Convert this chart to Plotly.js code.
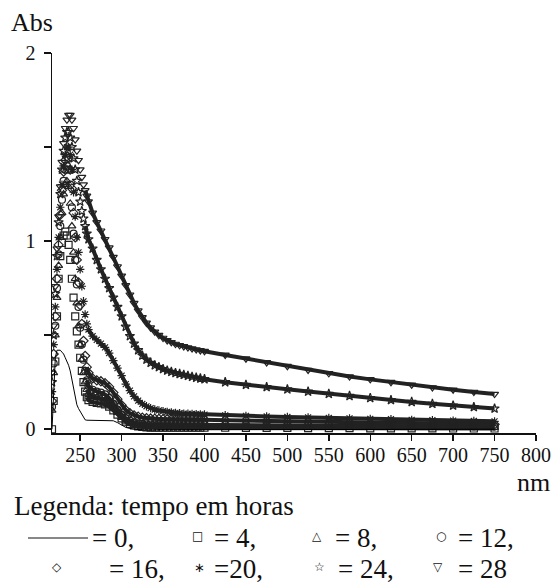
<!DOCTYPE html>
<html>
<head>
<meta charset="utf-8">
<script src="https://cdn.plot.ly/plotly-3.0.1.min.js"></script>
<style>html,body{margin:0;padding:0;background:#fff;}#chart{width:556px;height:585px;}</style>
</head>
<body>
<div id="chart"></div>
<script>
// wavelengths (nm)
const wl = [216,218,220,222,224,226,228,230,232,234,236,238,240,242,244,246,248,250,252,254,256,258,
260,265,270,275,280,285,290,295,300,305,310,315,320,325,330,335,340,345,350,355,360,365,370,375,380,385,390,395,400,
425,450,475,500,525,550,575,600,625,650,675,700,725,750];

// absorbance for each time (hours)
const t0 = [0,0.2,0.38,0.42,0.42,0.42,0.41,0.40,0.38,0.36,0.34,0.31,0.26,0.21,0.17,0.13,0.11,0.095,0.085,0.065,0.05,0.048,
0.048,0.048,0.048,0.048,0.048,0.047,0.045,0.035,0.022,0.01,0.004,0,-0.002,-0.003,-0.004,-0.004,-0.004,-0.003,-0.003,-0.002,-0.002,-0.001,-0.001,0,0,0,0,0,0,
0,0,0,0,0,0,0,0,0,0,0,0,0,0];
const t4 = [0,0.15,0.36,0.6,0.8,0.92,0.99,1.03,1.05,1.03,0.98,0.9,0.8,0.7,0.6,0.52,0.45,0.38,0.31,0.25,0.2,0.17,
0.155,0.145,0.14,0.138,0.132,0.12,0.1,0.078,0.058,0.04,0.028,0.02,0.015,0.012,0.01,0.009,0.008,0.008,0.008,0.008,0.008,0.008,0.008,0.008,0.008,0.008,0.008,0.008,0.008,
0.008,0.007,0.007,0.007,0.006,0.006,0.006,0.005,0.005,0.005,0.005,0.004,0.004,0.004];
const t8 = [0.1,0.3,0.5,0.7,0.87,1.02,1.15,1.25,1.3,1.32,1.29,1.2,1.08,0.94,0.8,0.67,0.55,0.45,0.37,0.3,0.25,0.21,
0.19,0.175,0.17,0.165,0.155,0.14,0.115,0.088,0.062,0.042,0.03,0.022,0.018,0.016,0.015,0.015,0.015,0.015,0.015,0.015,0.015,0.015,0.015,0.015,0.015,0.015,0.015,0.015,0.015,
0.015,0.014,0.014,0.013,0.013,0.012,0.012,0.011,0.011,0.01,0.01,0.01,0.009,0.009];
const t12 = [0.12,0.35,0.55,0.75,0.93,1.08,1.22,1.32,1.38,1.4,1.38,1.3,1.18,1.04,0.9,0.77,0.65,0.54,0.45,0.37,0.31,0.26,
0.23,0.21,0.2,0.195,0.185,0.165,0.135,0.105,0.078,0.058,0.045,0.036,0.031,0.028,0.026,0.025,0.025,0.025,0.025,0.025,0.025,0.025,0.025,0.024,0.024,0.024,0.024,0.024,0.024,
0.023,0.022,0.021,0.021,0.02,0.019,0.018,0.018,0.017,0.016,0.016,0.015,0.015,0.014];
const t16 = [0.15,0.4,0.6,0.8,0.98,1.14,1.27,1.37,1.43,1.45,1.44,1.38,1.28,1.15,1.02,0.9,0.78,0.66,0.56,0.47,0.39,0.33,
0.3,0.27,0.26,0.255,0.245,0.225,0.195,0.16,0.128,0.102,0.085,0.074,0.067,0.062,0.059,0.057,0.056,0.055,0.054,0.054,0.053,0.053,0.052,0.052,0.051,0.051,0.05,0.05,0.05,
0.048,0.046,0.044,0.042,0.04,0.038,0.036,0.034,0.032,0.031,0.029,0.028,0.027,0.026];
const t20 = [0.2,0.45,0.65,0.85,1.02,1.18,1.3,1.4,1.46,1.5,1.5,1.46,1.38,1.26,1.13,1.02,0.94,0.85,0.76,0.68,0.61,0.56,
0.53,0.495,0.475,0.455,0.435,0.405,0.365,0.325,0.285,0.24,0.205,0.175,0.152,0.135,0.122,0.112,0.105,0.1,0.096,0.092,0.089,0.087,0.085,0.083,0.082,0.081,0.08,0.079,0.078,
0.074,0.071,0.068,0.065,0.063,0.06,0.058,0.055,0.053,0.05,0.048,0.046,0.044,0.042];
const t24 = [0.25,0.5,0.72,0.92,1.1,1.25,1.38,1.48,1.55,1.58,1.58,1.55,1.5,1.44,1.38,1.32,1.26,1.21,1.16,1.12,1.08,1.04,
1.01,0.96,0.9,0.85,0.8,0.75,0.7,0.65,0.6,0.545,0.495,0.455,0.42,0.392,0.37,0.353,0.34,0.33,0.32,0.312,0.305,0.299,0.294,0.289,0.284,0.279,0.274,0.27,0.266,
0.25,0.236,0.224,0.212,0.2,0.188,0.177,0.166,0.155,0.145,0.135,0.126,0.118,0.11];
const t28 = [0.3,0.55,0.76,0.96,1.13,1.29,1.42,1.52,1.6,1.645,1.67,1.67,1.645,1.6,1.54,1.48,1.43,1.38,1.34,1.3,1.27,1.24,
1.21,1.15,1.1,1.055,1.01,0.965,0.915,0.865,0.815,0.765,0.715,0.67,0.63,0.595,0.565,0.54,0.518,0.5,0.485,0.472,0.462,0.453,0.446,0.44,0.434,0.429,0.424,0.419,0.415,
0.395,0.375,0.355,0.335,0.315,0.297,0.28,0.265,0.25,0.236,0.222,0.21,0.198,0.187];

const xTicks = [250,300,350,400,450,500,550,600,650,700,750,800];
const yTicks = [0,0.5,1,1.5,2];
const yTickText = ['0','','1','','2'];

// symbol and wavelength from which the dense markers merge into a band
const markerSeries = [
  {y: t4,  sym: 'square-open',        bandFrom: 258},
  {y: t8,  sym: 'triangle-up-open',   bandFrom: 258},
  {y: t12, sym: 'circle-open',        bandFrom: 258},
  {y: t16, sym: 'diamond-open',       bandFrom: 258},
  {y: t20, sym: 'asterisk-open',      bandFrom: 260},
  {y: t24, sym: 'star-open',          bandFrom: 256},
  {y: t28, sym: 'triangle-down-open', bandFrom: 256}
];

const ink = '#222';
const traces = [];
markerSeries.forEach(s => {
  const xs = [], ys = [];
  wl.forEach((w, i) => { if (w >= s.bandFrom) { xs.push(w); ys.push(s.y[i]); } });
  traces.push({x: xs, y: ys, mode: 'lines', line: {color: ink, width: 4}, hoverinfo: 'skip', showlegend: false});
});
markerSeries.forEach(s => {
  traces.push({x: wl, y: s.y, mode: 'markers', showlegend: false,
    marker: {symbol: s.sym, size: 7, color: ink, line: {color: ink, width: 1.2}}});
});
traces.push({x: wl, y: t0, mode: 'lines', line: {color: '#000', width: 1}, showlegend: false});

const L = 52, R = 20, T = 53, B = 152, W = 556, H = 585;
const pw = W - L - R, ph = H - T - B;
const px = x => (x - L) / pw;
const py = y => (T + ph - y) / ph;
const serif = 'Liberation Serif, Times New Roman, serif';
const sym = 'DejaVu Sans, sans-serif';

function txt(text, x, y, size, anchor, fam) {
  return {text: text, x: px(x), y: py(y), xref: 'paper', yref: 'paper', showarrow: false,
    xanchor: anchor || 'left', yanchor: 'middle', font: {family: fam || serif, size: size, color: '#111'}};
}

const annotations = [
  txt('Abs', 32, 22, 26, 'center'),
  txt('nm', 533, 482, 26, 'center'),
  txt('Legenda: tempo em horas', 12, 506, 27, 'left'),
  txt('= 0,', 90, 538, 27), txt('□', 197, 536, 12, 'center', sym), txt('= 4,', 212, 538, 27),
  txt('△', 317, 536, 12, 'center', sym), txt('= 8,', 333, 538, 27),
  txt('○', 441, 536, 12, 'center', sym), txt('=\u00a012,', 456, 538, 27),
  txt('◇', 57, 567, 12, 'center', sym), txt('=\u00a016,', 107, 569, 27),
  txt('∗', 199, 567, 13, 'center', sym), txt('=20,', 212, 569, 27),
  txt('☆', 319, 567, 12, 'center', sym), txt('=\u00a024,', 336, 569, 27),
  txt('▽', 438, 567, 12, 'center', sym), txt('=\u00a028', 456, 569, 27)
];

const layout = {
  width: W, height: H,
  margin: {l: L, r: R, t: T, b: B, pad: 0},
  paper_bgcolor: '#fff', plot_bgcolor: '#fff',
  showlegend: false,
  font: {family: serif, color: '#111'},
  xaxis: {range: [216, 800], tickvals: xTicks, ticks: 'outside', ticklen: 6, tickwidth: 1.5, tickcolor: '#111',
    showline: true, linecolor: '#111', linewidth: 1.5, showgrid: false, zeroline: false,
    ticklabelstandoff: -3,
    tickfont: {family: serif, size: 20, color: '#111'}},
  yaxis: {range: [-0.02, 2], tickvals: yTicks, ticktext: yTickText, ticks: 'outside', ticklen: 7, tickwidth: 1.5, tickcolor: '#111',
    showline: true, linecolor: '#111', linewidth: 1.5, showgrid: false, zeroline: false,
    ticklabelstandoff: 4,
    tickfont: {family: serif, size: 20, color: '#111'}},
  annotations: annotations,
  shapes: [{type: 'line', xref: 'paper', yref: 'paper', x0: px(28), x1: px(88), y0: py(538), y1: py(538),
    line: {color: '#111', width: 1}}]
};

Plotly.newPlot('chart', traces, layout, {staticPlot: true, displayModeBar: false});
</script>
</body>
</html>
